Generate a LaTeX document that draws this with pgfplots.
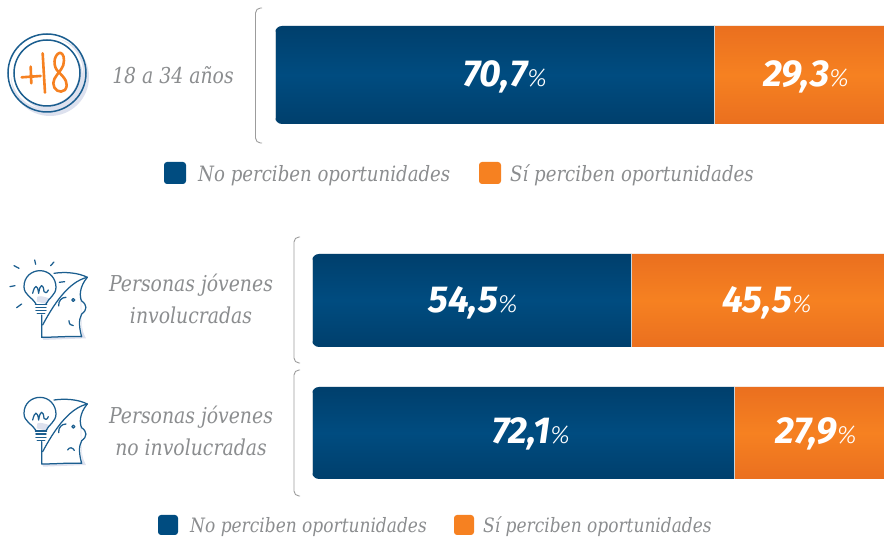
\documentclass[border=0pt]{standalone}
\usepackage{fontspec}
\usepackage{pgfplots}
\pgfplotsset{compat=1.18}
\setmainfont{DejaVu Serif}[FakeStretch=0.86]
\newfontfamily\numf{Fira Sans}
\newfontfamily\numl{Fira Sans Light}
\definecolor{navyE}{HTML}{003F6C}
\definecolor{navyM}{HTML}{004C80}
\definecolor{oraE}{HTML}{EA6F1F}
\definecolor{oraM}{HTML}{F68121}
\definecolor{sep}{HTML}{C9D3DA}
\definecolor{txt}{HTML}{8B8D8F}
\definecolor{brk}{HTML}{9C9C9C}
\definecolor{lav}{HTML}{DDE1EE}
\definecolor{icon}{HTML}{1B5E8F}
\newcommand{\val}[1]{{\color{white}\numf\fontsize{37.5}{38}\selectfont\bfseries\itshape #1\numl\fontsize{25}{25}\selectfont\mdseries\itshape\%}}
\newcommand{\lab}[1]{{\fontsize{21.9}{21.9}\selectfont\itshape\color{txt}#1}}
\newcommand{\leg}[1]{{\fontsize{21.1}{21}\selectfont\itshape\color{txt}#1}}
\newcommand{\legb}[1]{{\fontsize{19.8}{19.8}\selectfont\itshape\color{txt}#1}}
\pgfplotsset{
  barsty/.style={hide axis, scale only axis, xbar stacked, xmin=0, clip=false, ymin=-0.5, ymax=0.5},
  navyb/.style={draw=sep, line width=0.7pt, shade, top color=navyE, bottom color=navyE, middle color=navyM},
  orab/.style={draw=sep, line width=0.7pt, shade, top color=oraE, bottom color=oraE, middle color=oraM},
}
\newcommand{\bulbicon}[3]{%
  \begin{scope}[shift={(#1,#2)}, x=0.3333pt, y=-0.3333pt]
    \fill[lav] (240,170) .. controls (250,230) and (235,290) .. (258,325) -- (130,330) -- (125,320) -- (245,318) -- cycle;
    \fill[lav] (112,200) .. controls (125,195) and (145,205) .. (148,205) -- (140,222) -- (110,215) -- cycle;
    \begin{scope}[draw=icon, line width=1.25pt, line cap=round, line join=round]
      \draw (108,222) .. controls (95,200) and (72,195) .. (72,170) .. controls (72,140) and (95,122) .. (120,122) .. controls (148,122) and (168,145) .. (168,172) .. controls (168,195) and (145,205) .. (138,222);
      \draw (106,223) -- (140,223);
      \draw[line width=1.5pt] (108,232) -- (138,232) (108,242) -- (138,242) (112,251) -- (134,251);
      \draw (98,190) .. controls (104,165) and (112,160) .. (116,190) .. controls (120,160) and (130,160) .. (132,185) .. controls (135,192) and (142,188) .. (145,180);
      \draw (125,255) -- (125,322) .. controls (165,322) and (205,318) .. (245,320) .. controls (238,295) and (235,270) .. (245,252) .. controls (262,240) and (262,225) .. (245,213) .. controls (238,200) and (238,170) .. (262,142) .. controls (235,128) and (195,125) .. (162,130);
      \draw (262,142) .. controls (205,155) and (160,225) .. (128,285);
      \draw (176,228) .. controls (175,212) and (185,202) .. (198,202);
      \draw (220,210) circle[radius=4.5];
      #3
    \end{scope}
  \end{scope}}
\begin{document}
\begin{tikzpicture}[x=1pt,y=1pt]
\path[use as bounding box] (0,0) rectangle (884,537);
% top bar
\begin{scope}
\clip[rounded corners=7pt] (275,413) rectangle (930,511);
\begin{axis}[barsty, at={(275pt,413pt)}, anchor=south west, width=609pt, height=98pt,
  xmax=97.91, bar width=100pt]
\addplot[navyb] coordinates {(70.7,0)};
\addplot[orab] coordinates {(29.3,0)};
\end{axis}
\end{scope}
% middle bar
\begin{scope}
\clip[rounded corners=7pt] (312,190) rectangle (930,283);
\begin{axis}[barsty, at={(312pt,190pt)}, anchor=south west, width=572pt, height=93pt,
  xmax=97.73, bar width=95pt]
\addplot[navyb] coordinates {(54.5,0)};
\addplot[orab] coordinates {(45.5,0)};
\end{axis}
\end{scope}
% lower bar
\begin{scope}
\clip[rounded corners=7pt] (312,58) rectangle (930,150);
\begin{axis}[barsty, at={(312pt,58pt)}, anchor=south west, width=572pt, height=92pt,
  xmax=97.73, bar width=94pt]
\addplot[navyb] coordinates {(72.1,0)};
\addplot[orab] coordinates {(27.9,0)};
\end{axis}
\end{scope}
\begin{scope}[y=-1pt, yshift=537pt]
% value labels
\node[inner sep=0] at (505,77) {\val{70,7}};
\node[inner sep=0] at (806,77) {\val{29,3}};
\node[inner sep=0] at (473,303) {\val{54,5}};
\node[inner sep=0] at (767,303) {\val{45,5}};
\node[inner sep=0] at (531,434) {\val{72,1}};
\node[inner sep=0] at (816,434) {\val{27,9}};
% brackets
\draw[brk, line width=0.9pt, rounded corners=5pt] (262,8) -- (255.5,8) -- (255.5,143) -- (262,143);
\draw[brk, line width=0.9pt, rounded corners=5pt] (300,237) -- (294,237) -- (294,363) -- (300,363);
\draw[brk, line width=0.9pt, rounded corners=5pt] (300,370) -- (294,370) -- (294,496) -- (300,496);
% row labels
\node[inner sep=0] at (173,75) {\lab{18 a 34 años}};
\node[inner sep=0] at (191,285) {\lab{Personas jóvenes}};
\node[inner sep=0] at (191,315) {\lab{involucradas}};
\node[inner sep=0] at (191,417) {\lab{Personas jóvenes}};
\node[inner sep=0] at (191,447) {\lab{no involucradas}};
% legends
\fill[navyM, rounded corners=3pt] (164,162) rectangle (186,184);
\node[inner sep=0, anchor=west] at (198,175.5) {\leg{No perciben oportunidades}};
\fill[oraM, rounded corners=3pt] (479,162) rectangle (501,184);
\node[inner sep=0, anchor=west] at (510,175.5) {\leg{Sí perciben oportunidades}};
\fill[navyM, rounded corners=3pt] (158,515) rectangle (178,535);
\node[inner sep=0, anchor=west] at (190,527) {\legb{No perciben oportunidades}};
\fill[oraM, rounded corners=3pt] (454,515) rectangle (474,535);
\node[inner sep=0, anchor=west] at (483,527) {\legb{Sí perciben oportunidades}};
% +18 icon
\fill[lav] (50,77) circle[radius=39];
\fill[white] (47,73) circle[radius=36];
\fill[lav] (50,77) circle[radius=33];
\fill[white] (46,72) circle[radius=33];
\draw[icon, line width=1.5pt] (47,73) circle[radius=39];
\draw[icon, line width=1.5pt] (47,73) circle[radius=33];
\begin{scope}[x=0.3333pt, y=-0.3333pt, draw=oraM, line width=2.6pt, line cap=round, line join=round]
\draw (65,232) -- (122,228) (92,200) -- (94,250);
\draw (128,160) -- (135,278);
\draw (180,158) .. controls (160,165) and (158,200) .. (175,215) .. controls (195,235) and (208,250) .. (195,270) .. controls (180,282) and (160,270) .. (160,250) .. controls (160,230) and (180,220) .. (190,195) .. controls (195,175) and (190,160) .. (180,158);
\end{scope}
% head icons
\bulbicon{0}{230}{
  \draw (42,107) -- (57,115) (104,90) -- (107,103) (152,107) -- (162,96) (30,170) -- (45,167) (50,233) -- (65,222) (178,157) -- (194,155);
  \draw (207,272) .. controls (207,282) and (212,287) .. (220,287);
}
\bulbicon{0}{356.7}{
  \draw (203,280) .. controls (208,270) and (218,272) .. (223,281);
}
\end{scope}
\end{tikzpicture}
\end{document}
